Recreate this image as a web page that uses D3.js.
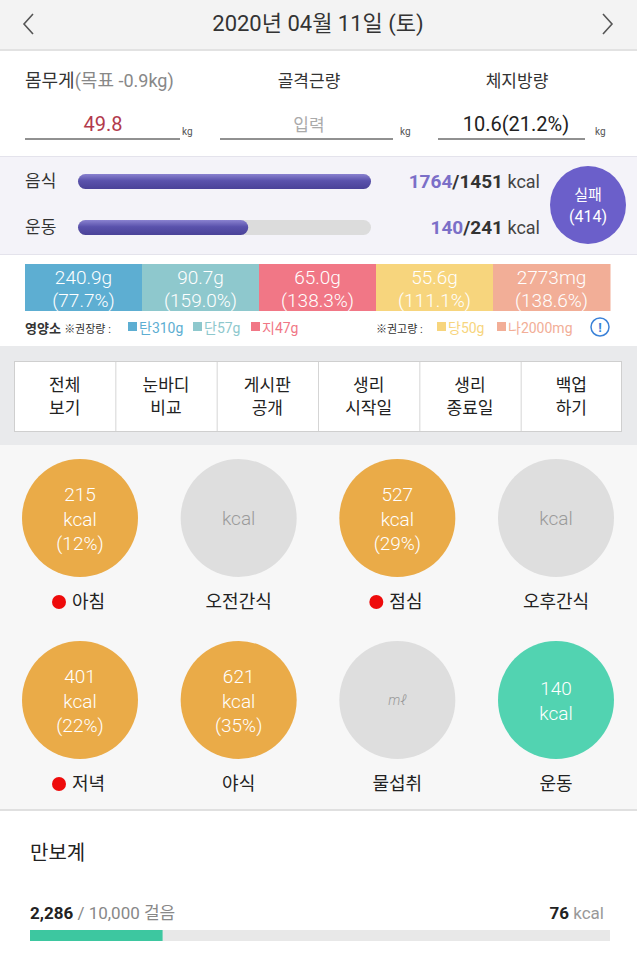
<!DOCTYPE html>
<html><head><meta charset="utf-8">
<script src="https://cdn.jsdelivr.net/npm/d3@7"></script>
<style>
html,body{margin:0;padding:0;background:#fff;}
svg{display:block;font-family:Roboto,"Noto Sans CJK KR","Noto Sans",sans-serif;}
</style></head><body>
<svg id="c" width="637" height="960"></svg>
<script>
const dateTitle = "2020년 04월 11일 (토)";
const bodyLabels = ["몸무게", "골격근량", "체지방량"];
const bodyValues = ["49.8", "입력", "10.6(21.2%)"];
const energyLabels = ["음식", "운동"];
const energyValues = [1764, 140];
const energyTargets = [1451, 241];
const resultLabel = ["실패", "(414)"];
const nutrientValues = ["240.9g", "90.7g", "65.0g", "55.6g", "2773mg"];
const nutrientPercents = ["(77.7%)", "(159.0%)", "(138.3%)", "(111.1%)", "(138.6%)"];
const nutrientColors = ["#5daed2", "#8ec8cd", "#f17786", "#f7d57d", "#f2ae97"];
const menuLabels = [["전체","보기"],["눈바디","비교"],["게시판","공개"],["생리","시작일"],["생리","종료일"],["백업","하기"]];
const mealNames = ["아침","오전간식","점심","오후간식","저녁","야식","물섭취","운동"];
const mealKcal = [215, null, 527, null, 401, 621, null, 140];
const mealPct = ["(12%)", null, "(29%)", null, "(22%)", "(35%)", null, null];
const mealDot = [true,false,true,false,true,false,false,false];
const steps = 2286, stepGoal = 10000, stepKcal = 76;

const svg = d3.select("#c");
const W = 637;

// header
svg.append("rect").attr("x",0).attr("y",0).attr("width",W).attr("height",50).attr("fill","#f3f3f3");
svg.append("rect").attr("x",0).attr("y",49).attr("width",W).attr("height",2).attr("fill","#e2e2e2");
svg.append("text").attr("x",318).attr("y",31).attr("text-anchor","middle").attr("font-size",22).attr("fill","#333").text(dateTitle);
svg.append("path").attr("d","M33,14 L24,24 L33,34").attr("fill","none").attr("stroke","#555").attr("stroke-width",1.6);
svg.append("path").attr("d","M603,14 L612,24 L603,34").attr("fill","none").attr("stroke","#555").attr("stroke-width",1.6);

// body section
const bx = [103, 309, 516];
const t0 = svg.append("text").attr("x",25).attr("y",87).attr("font-size",18).attr("fill","#333");
t0.append("tspan").text(bodyLabels[0]);
t0.append("tspan").attr("fill","#888").text("(목표 -0.9kg)");
svg.append("text").attr("x",309).attr("y",87).attr("text-anchor","middle").attr("font-size",17).attr("fill","#333").text(bodyLabels[1]);
svg.append("text").attr("x",517).attr("y",87).attr("text-anchor","middle").attr("font-size",17).attr("fill","#333").text(bodyLabels[2]);
const underl = [[25,180,182],[220,393,400],[438,585,595]];
const valCol = ["#b23a4c","#aaa","#222"];
const valSize = [20,17,20];
bodyValues.forEach((v,i)=>{
  svg.append("text").attr("x",bx[i]).attr("y",131).attr("text-anchor","middle").attr("font-size",valSize[i]).attr("fill",valCol[i]).text(v);
  svg.append("line").attr("x1",underl[i][0]).attr("x2",underl[i][1]).attr("y1",139).attr("y2",139).attr("stroke","#222").attr("stroke-width",1);
  svg.append("text").attr("x",underl[i][2]).attr("y",135).attr("font-size",10).attr("fill","#555").text("kg");
});

// energy section
svg.append("rect").attr("x",0).attr("y",156).attr("width",W).attr("height",99).attr("fill","#f4f3f9");
svg.append("line").attr("x1",0).attr("x2",W).attr("y1",156.5).attr("y2",156.5).attr("stroke","#e4e3ec");
svg.append("line").attr("x1",0).attr("x2",W).attr("y1",254.5).attr("y2",254.5).attr("stroke","#e4e3ec");
const xBar = d3.scaleLinear().domain([0,1]).range([78,371]).clamp(true);
const defs = svg.append("defs");
const g = defs.append("linearGradient").attr("id","pg").attr("x1",0).attr("x2",0).attr("y1",0).attr("y2",1);
g.append("stop").attr("offset","0%").attr("stop-color","#8a82d0");
g.append("stop").attr("offset","45%").attr("stop-color","#5a52ac");
g.append("stop").attr("offset","100%").attr("stop-color","#4a4298");
const ey = [181, 227];
energyLabels.forEach((l,i)=>{
  svg.append("text").attr("x",25).attr("y",ey[i]+6).attr("font-size",17).attr("fill","#333").text(l);
  svg.append("rect").attr("x",xBar(0)).attr("y",ey[i]-7).attr("width",xBar(1)-xBar(0)).attr("height",15).attr("rx",7.5).attr("fill","#dcdcdc");
  svg.append("rect").attr("x",xBar(0)).attr("y",ey[i]-7).attr("width",xBar(energyValues[i]/energyTargets[i])-xBar(0)).attr("height",15).attr("rx",7.5).attr("fill","url(#pg)");
  const t = svg.append("text").attr("x",540).attr("y",ey[i]+7).attr("text-anchor","end").attr("font-size",19).attr("font-weight","bold").attr("fill","#333");
  t.append("tspan").attr("fill","#7b6fc8").text(energyValues[i]);
  t.append("tspan").text("/"+energyTargets[i]);
  t.append("tspan").attr("font-weight","normal").attr("fill","#444").attr("font-size",18).text(" kcal");
});
svg.append("ellipse").attr("cx",588).attr("cy",205).attr("rx",38).attr("ry",39).attr("fill","#6b5fca");
svg.append("text").attr("x",588).attr("y",200).attr("text-anchor","middle").attr("font-size",15).attr("fill","#fff").text(resultLabel[0]);
svg.append("text").attr("x",588).attr("y",222).attr("text-anchor","middle").attr("font-size",16).attr("fill","#fff").text(resultLabel[1]);

// nutrients
const xn = d3.scaleBand().domain(d3.range(nutrientValues.length)).range([25,610]).padding(0);
nutrientValues.forEach((v,i)=>{
  svg.append("rect").attr("x",xn(i)).attr("y",264).attr("width",xn.bandwidth()+0.5).attr("height",47).attr("fill",nutrientColors[i]);
  svg.append("text").attr("x",xn(i)+xn.bandwidth()/2).attr("y",284).attr("text-anchor","middle").attr("font-size",19).attr("font-weight",300).attr("fill","#fff").text(v);
  svg.append("text").attr("x",xn(i)+xn.bandwidth()/2).attr("y",307).attr("text-anchor","middle").attr("font-size",19).attr("font-weight",300).attr("fill","#fff").text(nutrientPercents[i]);
});
const lg = svg.append("text").attr("x",25).attr("y",333).attr("font-size",13).attr("fill","#333");
lg.append("tspan").attr("font-weight","bold").text("영양소 ");
lg.append("tspan").attr("font-size",11).text("※권장량 : ");
const legItems = [[128,"탄310g",0],[193,"단57g",1],[251,"지47g",2],[437,"당50g",3],[497,"나2000mg",4]];
legItems.forEach(([x,t,ci])=>{
  svg.append("rect").attr("x",x).attr("y",322).attr("width",9).attr("height",9).attr("fill",nutrientColors[ci]);
  svg.append("text").attr("x",x+11).attr("y",333).attr("font-size",14).attr("fill",nutrientColors[ci]).text(t);
});
svg.append("text").attr("x",376).attr("y",333).attr("font-size",11).attr("fill","#333").text("※권고량 : ");
svg.append("circle").attr("cx",600).attr("cy",327).attr("r",9).attr("fill","none").attr("stroke","#3b82d8").attr("stroke-width",1.5);
svg.append("text").attr("x",600).attr("y",332).attr("text-anchor","middle").attr("font-size",13).attr("font-weight","bold").attr("fill","#3b82d8").text("!");

// menu section
svg.append("rect").attr("x",0).attr("y",346).attr("width",W).attr("height",99).attr("fill","#e9eaec");
const xm = d3.scaleBand().domain(d3.range(menuLabels.length)).range([14,622]);
svg.append("rect").attr("x",14.5).attr("y",361.5).attr("width",607).attr("height",70).attr("fill","#fff").attr("stroke","#cfcfcf");
menuLabels.forEach((m,i)=>{
  if(i>0) svg.append("line").attr("x1",xm(i)+0.5).attr("x2",xm(i)+0.5).attr("y1",362).attr("y2",431).attr("stroke","#d5d5d5");
  const cx = xm(i)+xm.bandwidth()/2;
  svg.append("text").attr("x",cx).attr("y",391).attr("text-anchor","middle").attr("font-size",17).attr("fill","#222").text(m[0]);
  svg.append("text").attr("x",cx).attr("y",414).attr("text-anchor","middle").attr("font-size",17).attr("fill","#222").text(m[1]);
});

// meal circles
svg.append("rect").attr("x",0).attr("y",445).attr("width",W).attr("height",365).attr("fill","#f7f7f7");
const xc = d3.scalePoint().domain(d3.range(4)).range([80,556]);
const rowY = [518, 700];
mealNames.forEach((n,i)=>{
  const cx = xc(i%4), cy = rowY[Math.floor(i/4)];
  const isEx = n==="운동";
  const filled = mealKcal[i]!==null;
  const fill = isEx ? "#52d3b1" : (filled ? "#eaab48" : "#dedede");
  svg.append("ellipse").attr("cx",cx).attr("cy",cy).attr("rx",58).attr("ry",59).attr("fill",fill);
  const tt = (y,s,sz,col)=>svg.append("text").attr("x",cx).attr("y",y).attr("text-anchor","middle").attr("font-size",sz||19).attr("font-weight",300).attr("fill",col||"#fff").text(s);
  if(filled){
    if(mealPct[i]){
      tt(cy-17, mealKcal[i]); tt(cy+8,"kcal"); tt(cy+32, mealPct[i]);
    } else {
      tt(cy-5, mealKcal[i]); tt(cy+20,"kcal");
    }
  } else {
    if(n==="물섭취") tt(cy+5,"mℓ",14,"#9a9a9a").attr("font-style","italic");
    else tt(cy+7,"kcal",19,"#9a9a9a");
  }
  const ly = cy+90;
  if(mealDot[i]){
    svg.append("circle").attr("cx",cx-21).attr("cy",ly-6).attr("r",7).attr("fill","#ee0b0b");
    svg.append("text").attr("x",cx-8).attr("y",ly).attr("font-size",18).attr("fill","#222").text(n);
  } else {
    svg.append("text").attr("x",cx).attr("y",ly).attr("text-anchor","middle").attr("font-size",18).attr("fill","#222").text(n);
  }
});

// pedometer
svg.append("rect").attr("x",0).attr("y",809).attr("width",W).attr("height",2).attr("fill","#e0e0e0");
svg.append("text").attr("x",30).attr("y",860).attr("font-size",20).attr("fill","#222").text("만보계");
const ps = d3.scaleLinear().domain([0,stepGoal]).range([30,610]);
const st = svg.append("text").attr("x",30).attr("y",919).attr("font-size",17).attr("fill","#888");
st.append("tspan").attr("font-weight","bold").attr("fill","#222").text(d3.format(",")(steps));
st.append("tspan").text(" / "+d3.format(",")(stepGoal)+" 걸음");
const kt = svg.append("text").attr("x",604).attr("y",919).attr("text-anchor","end").attr("font-size",17).attr("fill","#999");
kt.append("tspan").attr("font-weight","bold").attr("fill","#222").text(stepKcal);
kt.append("tspan").text(" kcal");
svg.append("rect").attr("x",ps(0)).attr("y",930).attr("width",ps(stepGoal)-ps(0)).attr("height",11).attr("fill","#e8e8e8");
svg.append("rect").attr("x",ps(0)).attr("y",930).attr("width",ps(steps)-ps(0)).attr("height",11).attr("fill","#3dc7a0");
</script>
</body></html>
